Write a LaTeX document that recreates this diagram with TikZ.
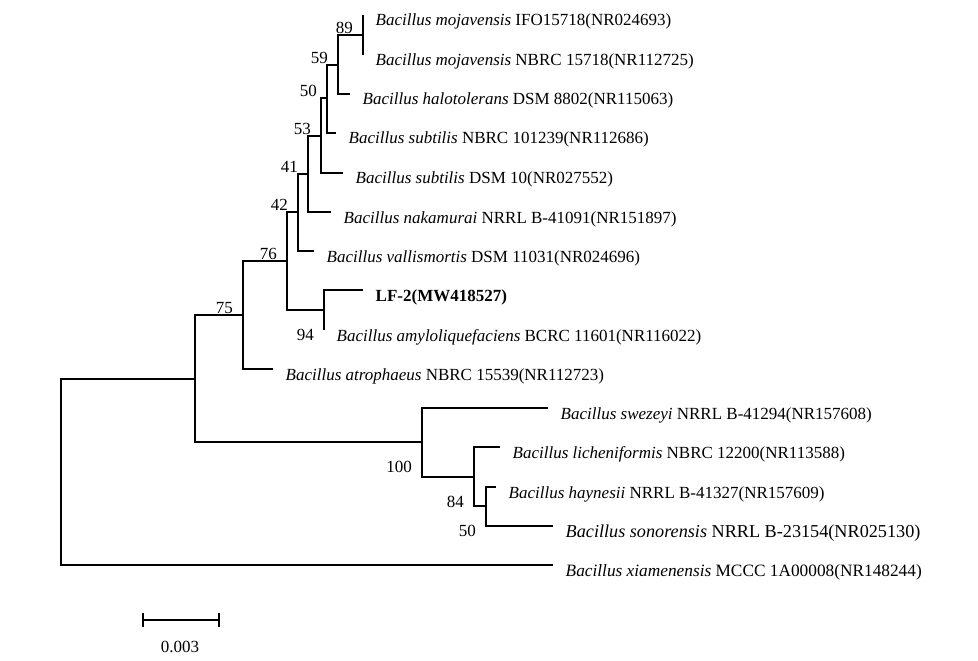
\documentclass[tikz,border=0pt]{standalone}
\usepackage{fontspec}
\setmainfont{Liberation Serif}
\begin{document}
\begin{tikzpicture}[x=1bp,y=-1bp,
  branch/.style={line width=2bp},
  txt/.style={inner sep=0pt, font=\fontsize{17bp}{20bp}\selectfont},
  taxon/.style={txt, anchor=base west, xshift=12.5bp, yshift=-11bp},
  bsup/.style={txt, anchor=base east, xshift=-10bp, yshift=1.5bp},
  bsdown/.style={txt, anchor=base east, xshift=-10bp, yshift=-30bp}]
\useasboundingbox (0,0) rectangle (978,661);
% internal nodes
\coordinate (R)    at (61,472);
\coordinate (A)    at (195,379);
\coordinate (N75)  at (243,315);
\coordinate (N76)  at (287,261);
\coordinate (N42)  at (298,212);
\coordinate (N41)  at (308,174);
\coordinate (N53)  at (321,136);
\coordinate (N50)  at (327,98);
\coordinate (N59)  at (338,65);
\coordinate (N89)  at (363,35);
\coordinate (N94)  at (324,310);
\coordinate (N100) at (422,442);
\coordinate (N84)  at (474,477);
\coordinate (N50b) at (486,506);
% leaf tips
\coordinate (t1)  at (363,15);
\coordinate (t2)  at (363,55);
\coordinate (t3)  at (350,94);
\coordinate (t4)  at (336,133);
\coordinate (t5)  at (343,173);
\coordinate (t6)  at (331,212);
\coordinate (t7)  at (314,251);
\coordinate (t8)  at (363,290);
\coordinate (t9)  at (324,330);
\coordinate (t10) at (273,369);
\coordinate (t11) at (548,408);
\coordinate (t12) at (500,447);
\coordinate (t13) at (496,487);
\coordinate (t14) at (553,526);
\coordinate (t15) at (553,565);
% branches
\draw[branch] (A) -| (R) |- (t15);
\draw[branch] (N75) -| (A) |- (N100);
\draw[branch] (N76) -| (N75) |- (t10);
\draw[branch] (N42) -| (N76) |- (N94);
\draw[branch] (N41) -| (N42) |- (t7);
\draw[branch] (N53) -| (N41) |- (t6);
\draw[branch] (N50) -| (N53) |- (t5);
\draw[branch] (N59) -| (N50) |- (t4);
\draw[branch] (N89) -| (N59) |- (t3);
\draw[branch] (t1) -| (N89) |- (t2);
\draw[branch] (t8) -| (N94) |- (t9);
\draw[branch] (t11) -| (N100) |- (N84);
\draw[branch] (t12) -| (N84) |- (N50b);
\draw[branch] (t13) -| (N50b) |- (t14);
% taxa
\node[taxon] (L1)  at (t1)  {\textit{Bacillus mojavensis} IFO15718(NR024693)};
\node[taxon] (L2)  at (t2)  {\textit{Bacillus mojavensis} NBRC 15718(NR112725)};
\node[taxon] (L3)  at (t3)  {\textit{Bacillus halotolerans} DSM 8802(NR115063)};
\node[taxon] (L4)  at (t4)  {\textit{Bacillus subtilis} NBRC 101239(NR112686)};
\node[taxon] (L5)  at (t5)  {\textit{Bacillus subtilis} DSM 10(NR027552)};
\node[taxon] (L6)  at (t6)  {\textit{Bacillus nakamurai} NRRL B-41091(NR151897)};
\node[taxon] (L7)  at (t7)  {\textit{Bacillus vallismortis} DSM 11031(NR024696)};
\node[taxon] (L8)  at (t8)  {\textbf{LF-2(MW418527)}};
\node[taxon] (L9)  at (t9)  {\textit{Bacillus amyloliquefaciens} BCRC 11601(NR116022)};
\node[taxon] (L10) at (t10) {\textit{Bacillus atrophaeus} NBRC 15539(NR112723)};
\node[taxon] (L11) at (t11) {\textit{Bacillus swezeyi} NRRL B-41294(NR157608)};
\node[taxon] (L12) at (t12) {\textit{Bacillus licheniformis} NBRC 12200(NR113588)};
\node[taxon] (L13) at (t13) {\textit{Bacillus haynesii} NRRL B-41327(NR157609)};
\node[taxon, font=\fontsize{18.2bp}{21bp}\selectfont] (L14) at (t14) {\textit{Bacillus sonorensis} NRRL B-23154(NR025130)};
\node[taxon, font=\fontsize{17.3bp}{20bp}\selectfont] (L15) at (t15) {\textit{Bacillus xiamenensis} MCCC 1A00008(NR148244)};
% bootstrap values
\node[bsup] (b89) at (N89) {89};
\node[bsup] (b59) at (N59) {59};
\node[bsup] (b50) at (N50) {50};
\node[bsup] (b53) at (N53) {53};
\node[bsup] (b41) at (N41) {41};
\node[bsup] (b42) at (N42) {42};
\node[bsup] (b76) at (N76) {76};
\node[bsup] (b75) at (N75) {75};
\node[bsdown] (b94)  at (N94)  {94};
\node[bsdown] (b100) at (N100) {100};
\node[bsdown] (b84)  at (N84)  {84};
\node[bsdown] (b50b) at (N50b) {50};
% scale bar
\coordinate (sb1) at (143,620);
\coordinate (sb2) at (219,620);
\draw[branch] (sb1) -- (sb2);
\draw[branch] ([yshift=7bp]sb1) -- ([yshift=-7bp]sb1);
\draw[branch] ([yshift=7bp]sb2) -- ([yshift=-7bp]sb2);
\node[txt, anchor=base] (sbl) at (180,652) {0.003};
\end{tikzpicture}
\end{document}
